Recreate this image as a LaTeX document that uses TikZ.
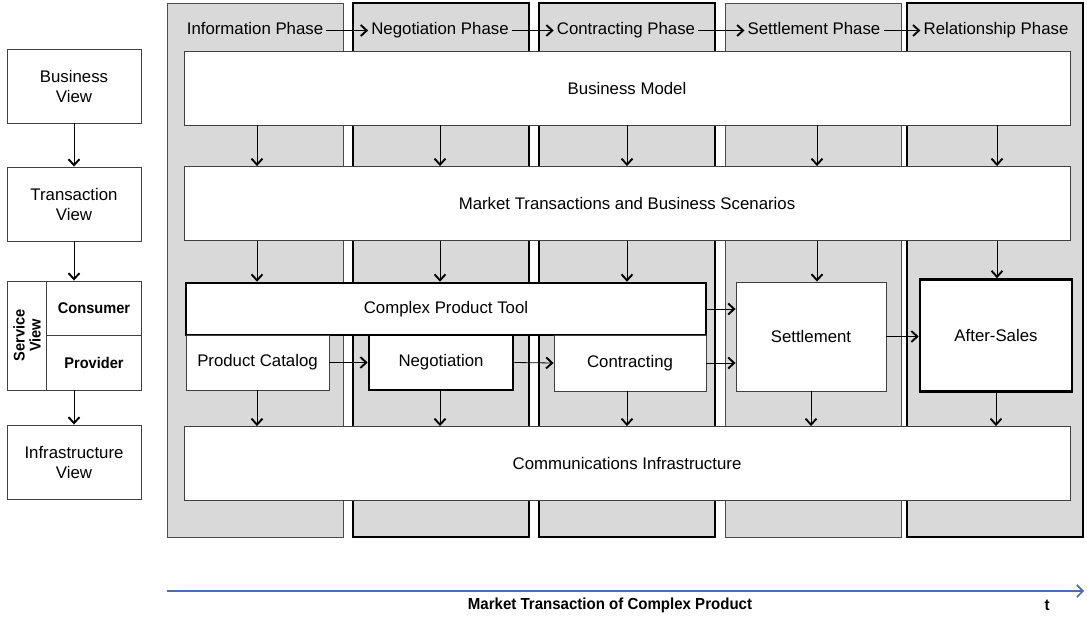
\documentclass[tikz,border=0pt]{standalone}
\usepackage{fontspec}
\setmainfont{Liberation Sans}
\newfontfamily\narrowbold[FakeStretch=0.94]{Liberation Sans Bold}
\usetikzlibrary{arrows.meta}
\definecolor{phasegray}{RGB}{217,217,217}
\definecolor{timeblue}{RGB}{74,108,176}

\begin{document}
\begin{tikzpicture}[
  x=1pt, y=-1pt,
  phasecol/.style={draw=black!70, line width=0.9pt, fill=phasegray, minimum width=176, minimum height=534, inner sep=0},
  keyphase/.style={phasecol, draw=black, line width=2.6pt},
  block/.style={draw=black!75, line width=0.9pt, fill=white, inner sep=0, align=center,
    font=\fontsize{16.8}{20}\selectfont},
  keyblock/.style={block, draw=black, line width=2.6pt},
  wide/.style={block, minimum width=886, minimum height=74},
  viewbox/.style={block, minimum width=134, minimum height=74},
  label/.style={font=\fontsize{16.8}{20}\selectfont, inner sep=3pt, text height=12pt, text depth=3.5pt},
  flow/.style={-{Straight Barb[length=6pt, width=11pt, line width=1.9pt]}, line width=0.8pt},
  timeline/.style={-{Straight Barb[length=6pt, width=12pt, line width=1.6pt]}, line width=2.4pt, draw=timeblue}
]
\useasboundingbox (0,0) rectangle (1087,618);

% phase columns
\node[phasecol] (pinf) at (255,270) {};
\node[keyphase] (pneg) at (441,270) {};
\node[keyphase] (pcon) at (627,270) {};
\node[phasecol] (pset) at (813,270) {};
\node[keyphase] (prel) at (995,270) {};

\node[label] (linf) at (255,30.5) {Information Phase};
\node[label] (lneg) at (440,30.5) {Negotiation Phase};
\node[label] (lcon) at (626,30.5) {Contracting Phase};
\node[label] (lset) at (814,30.5) {Settlement Phase};
\node[label] (lrel) at (996,30.5) {Relationship Phase};
\draw[flow] (linf) -- (lneg);
\draw[flow] (lneg) -- (lcon);
\draw[flow] (lcon) -- (lset);
\draw[flow] (lset) -- (lrel);

% layers
\node[wide] (bm) at (627,88) {Business Model};
\node[wide] (mt) at (627,203.5) {Market Transactions and Business Scenarios};
\node[wide] (ci) at (627,463.5) {Communications Infrastructure};

% service layer
\node[keyblock, minimum width=520, minimum height=52] (cpt) at (446,309) {Complex Product Tool};
\node[block, minimum width=143, minimum height=55] (pc) at (257.5,362.5) {Product Catalog};
\node[keyblock, minimum width=144, minimum height=55] (neg) at (441,362.5) {Negotiation};
\node[block, minimum width=152, minimum height=56] (con) at (630,363) {Contracting};
\node[block, minimum width=150, minimum height=109] (set) at (811,336.5) {Settlement};
\node[keyblock, minimum width=152, minimum height=112] (aft) at (996,335.5) {After-Sales};

\coordinate (c1) at (257,0);
\coordinate (c2) at (440,0);
\coordinate (c3) at (627,0);
\coordinate (c4) at (817,0);
\coordinate (c5) at (997,0);

\foreach \c in {c1,c2,c3,c4,c5}
  \draw[flow] (bm.south -| \c) -- (mt.north -| \c);
\draw[flow] (mt.south -| c1) -- (cpt.north -| c1);
\draw[flow] (mt.south -| c2) -- (cpt.north -| c2);
\draw[flow] (mt.south -| c3) -- (cpt.north -| c3);
\draw[flow] (mt.south -| c4) -- (set.north -| c4);
\draw[flow] (mt.south -| c5) -- (aft.north -| c5);

\draw[flow] (pc.south -| c1) -- (ci.north -| c1);
\draw[flow] (neg.south -| c2) -- (ci.north -| c2);
\draw[flow] (con.south -| c3) -- (ci.north -| c3);
\draw[flow] (set.south) -- (ci.north -| set.south);
\draw[flow] (aft.south) -- (ci.north -| aft.south);

\draw[flow] (pc.east) -- (neg.west);
\draw[flow] (neg.east) -- (con.west);
\draw[flow] (con.east) -- (set.west |- con.east);
\draw[flow] (cpt.east) -- (set.west |- cpt.east);
\draw[flow] (set.east) -- (aft.west |- set.east);

% views
\node[viewbox] (bv) at (74,86) {Business\\View};
\node[viewbox] (tv) at (74,204) {Transaction\\View};
\node[block, minimum width=134, minimum height=109] (sv) at (74,335.5) {};
\draw[draw=black!75, line width=0.9pt] (sv.north west) ++(40,0) coordinate (svd) -- (svd |- sv.south);
\draw[draw=black!75, line width=0.9pt] (svd |- sv.center) -- (sv.east);
\node[font=\narrowbold\fontsize{15.5}{16}\selectfont, rotate=90, align=center, inner sep=0] (svl) at (27,335.5) {Service\\View};
\node[font=\narrowbold\fontsize{15.5}{18}\selectfont] (cons) at (94,308) {Consumer};
\node[font=\narrowbold\fontsize{15.5}{18}\selectfont] (prov) at (94,363) {Provider};
\node[viewbox] (iv) at (74,462) {Infrastructure\\View};
\draw[flow] (bv) -- (tv);
\draw[flow] (tv) -- (sv);
\draw[flow] (sv) -- (iv);

% time axis
\coordinate (tstart) at (167,591);
\coordinate (tend) at (1084,591);
\draw[timeline] (tstart) -- (tend);
\node[font=\narrowbold\fontsize{16}{18}\selectfont] (tlbl) at (610,605.5) {Market Transaction of Complex Product};
\node[font=\narrowbold\fontsize{16}{18}\selectfont] (tsym) at (1047,605.5) {t};
\end{tikzpicture}
\end{document}
